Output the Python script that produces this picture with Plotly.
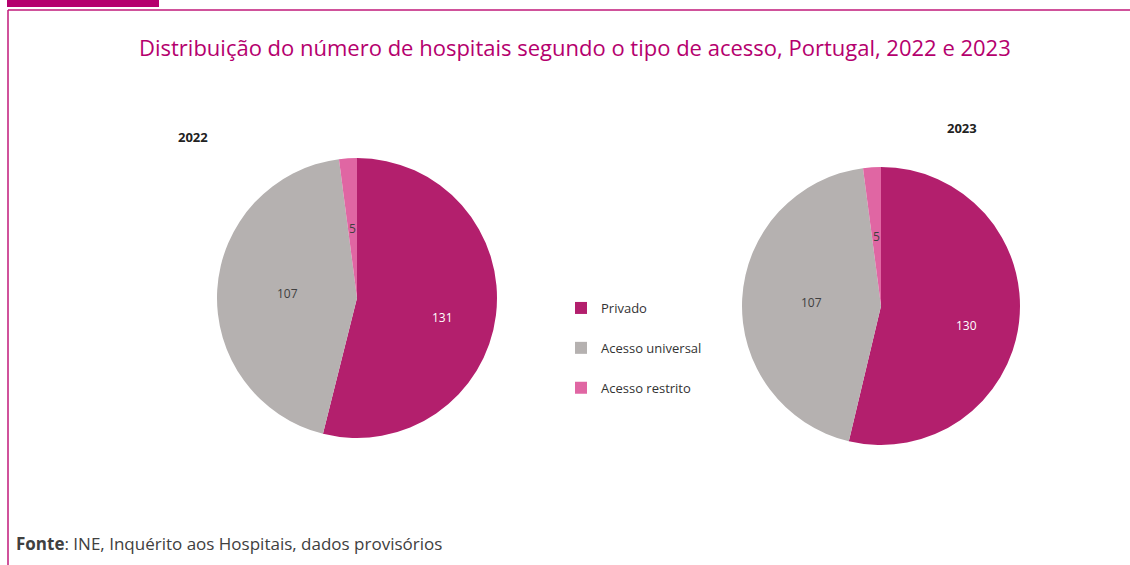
import math
import plotly.graph_objects as go

W, H = 1130, 565
categories = ["Privado", "Acesso universal", "Acesso restrito"]
values_2022 = [131, 107, 5]
values_2023 = [130, 107, 5]
years = ["2022", "2023"]
colors = ["#B31F6D", "#B5B1B0", "#E066A3"]
text_colors = ["#FFFFFF", "#404040", "#404040"]


def px_x(v):
    return v / W


def px_y(v):
    return 1 - v / H


# pie geometry (pixels): centre x, centre y, radius
pies = [(357, 298, 140), (881, 306, 139)]
# label placement: fraction of radius and angular nudge (degrees) per slice
label_r = [0.63, 0.5, 0.5]
label_nudge = [6, 0, 0]

fig = go.Figure()
annotations = []
for vals, (cx, cy, r) in zip([values_2022, values_2023], pies):
    fig.add_trace(go.Pie(
        labels=categories, values=vals, sort=False, direction="clockwise", rotation=0,
        marker=dict(colors=colors), textinfo="none",
        domain=dict(x=[px_x(cx - r), px_x(cx + r)], y=[px_y(cy + r), px_y(cy - r)]),
        showlegend=False, hoverinfo="label+value",
    ))
    total = sum(vals)
    cum = 0
    for i, v in enumerate(vals):
        mid = (cum + v / 2) / total * 2 * math.pi + math.radians(label_nudge[i])
        cum += v
        lx = cx + label_r[i] * r * math.sin(mid)
        ly = cy - label_r[i] * r * math.cos(mid)
        annotations.append(dict(text=str(v), x=px_x(lx), y=px_y(ly), xref="paper", yref="paper",
                                showarrow=False, xanchor="center", yanchor="middle",
                                font=dict(size=12, color=text_colors[i], family="Open Sans")))

# legend entries
for c, col in zip(categories, colors):
    fig.add_trace(go.Scatter(
        x=[None], y=[None], mode="markers", name=c, legendgroup=c,
        marker=dict(symbol="square", size=8, color=col),
    ))

annotations += [
    dict(text="Distribuição do número de hospitais segundo o tipo de acesso, Portugal, 2022 e 2023",
         x=px_x(575), y=px_y(47), xref="paper", yref="paper", showarrow=False, yanchor="middle",
         font=dict(size=22, color="#B5006E", family="Open Sans")),
    dict(text="<b>" + years[0] + "</b>", x=px_x(176), y=px_y(137), xref="paper", yref="paper",
         showarrow=False, yanchor="middle", font=dict(size=13, color="#222222", family="Open Sans")),
    dict(text="<b>" + years[1] + "</b>", x=px_x(979), y=px_y(128), xref="paper", yref="paper",
         showarrow=False, yanchor="middle", font=dict(size=13, color="#222222", family="Open Sans")),
    dict(text="<b>Fonte</b>: INE, Inquérito aos Hospitais, dados provisórios",
         x=px_x(14), y=px_y(543), xref="paper", yref="paper", xanchor="left", yanchor="middle",
         showarrow=False, font=dict(size=17, color="#404040", family="Open Sans")),
]

fig.update_layout(
    width=W, height=H,
    margin=dict(l=0, r=0, t=0, b=0),
    paper_bgcolor="white", plot_bgcolor="white",
    font=dict(family="Open Sans", color="#404040"),
    xaxis=dict(visible=False, domain=[0, 0.01]),
    yaxis=dict(visible=False, domain=[0, 0.01]),
    legend=dict(
        x=px_x(561), y=px_y(293), xanchor="left", yanchor="top",
        font=dict(size=13, color="#333333", family="Open Sans"),
        tracegroupgap=20, traceorder="grouped", itemsizing="constant",
        bgcolor="rgba(0,0,0,0)",
    ),
    annotations=annotations,
    shapes=[
        dict(type="rect", xref="paper", yref="paper", x0=px_x(7), x1=px_x(159), y0=px_y(7), y1=1,
             fillcolor="#B5006E", line=dict(width=0)),
        dict(type="line", xref="paper", yref="paper", x0=px_x(8), x1=1, y0=px_y(10), y1=px_y(10),
             line=dict(color="#C0187A", width=1.5)),
        dict(type="line", xref="paper", yref="paper", x0=px_x(8), x1=px_x(8), y0=px_y(10), y1=0,
             line=dict(color="#C0187A", width=1.5)),
    ],
)

fig.write_html("out.html", config={"displayModeBar": False},
               post_script="document.body.style.margin='0';document.body.style.overflow='hidden';")
